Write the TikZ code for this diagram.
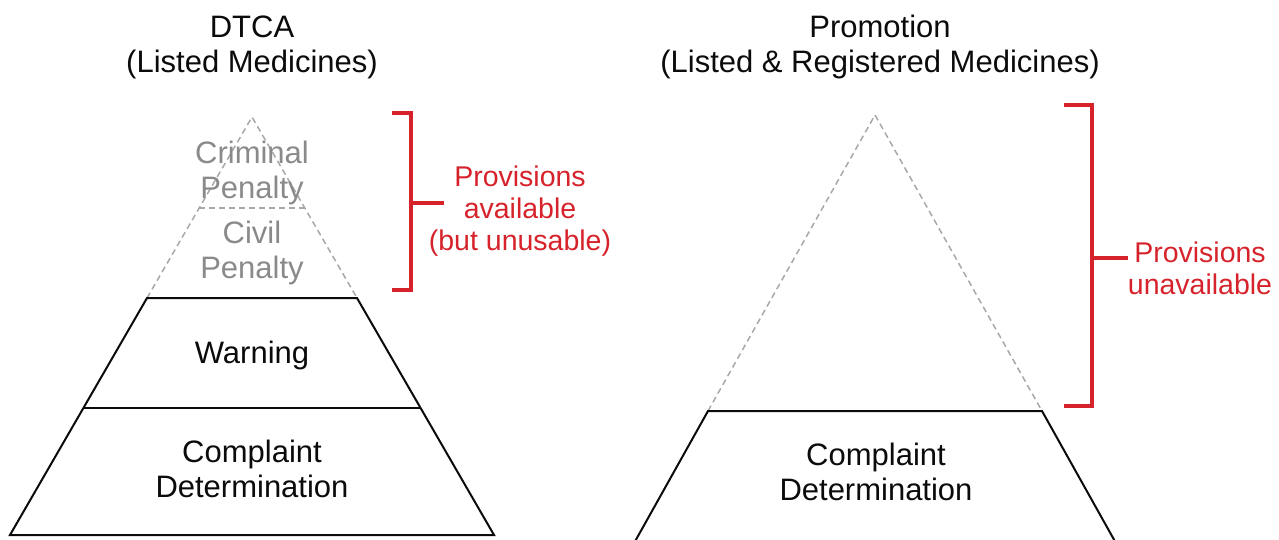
\documentclass[tikz,border=0pt]{standalone}
\usepackage{fontspec}
\setmainfont{Liberation Sans}
\usepackage{tikz}
\usetikzlibrary{positioning}
\definecolor{inkblack}{HTML}{0B0B0B}
\definecolor{provred}{HTML}{D6232B}
\definecolor{fadegray}{HTML}{8A8A8A}
\definecolor{ghostgray}{HTML}{A8A8A8}

\begin{document}
\begin{tikzpicture}[
  x=1pt, y=-1pt,
  every node/.style={font=\fontsize{31}{35}\selectfont, align=center, inner sep=0pt, text=inkblack},
  faded/.style={text=fadegray},
  note/.style={text=provred, font=\fontsize{28.5}{32}\selectfont},
  rim/.style={draw=inkblack, line width=2pt, line join=miter},
  ghost/.style={draw=ghostgray, line width=1.5pt, dash pattern=on 6pt off 4pt},
  brace/.style={draw=provred, line width=3.2pt},
]
  \useasboundingbox (0,0) rectangle (1279,540);

  % titles
  \node (lTitle) at (252,47) {DTCA\\(Listed Medicines)};
  \node (rTitle) at (880,47) {Promotion\\(Listed \& Registered Medicines)};

  % left pyramid
  \coordinate (lApex) at (252,117);
  \coordinate (lDashL) at (199,208);
  \coordinate (lDashR) at (305,208);
  \coordinate (lTopL) at (147,298);
  \coordinate (lTopR) at (357,298);
  \coordinate (lMidL) at (83,408);
  \coordinate (lMidR) at (421,408);
  \coordinate (lBotL) at (10,535);
  \coordinate (lBotR) at (494,535);

  \draw[ghost] (lTopL) -- (lApex) -- (lTopR);
  \draw[ghost] (lDashL) -- (lDashR);
  \draw[rim] (lTopL) -- (lTopR) -- (lBotR) -- (lBotL) -- cycle;
  \draw[rim] (lMidL) -- (lMidR);

  \node[faded] (crim) at (252,173) {Criminal\\Penalty};
  \node[faded] (civ) at (252,253) {Civil\\Penalty};
  \node (warn) at (252,355) {Warning};
  \node (lComp) at (252,469) {Complaint\\Determination};

  % left bracket
  \coordinate (lBrTop) at (411,113);
  \coordinate (lBrBot) at (411,290);
  \coordinate (lBrMid) at (411,203);
  \coordinate (lBrTip) at (444,203);
  \draw[brace] (392,113) -- (lBrTop) -- (lBrBot) -- (392,290);
  \draw[brace] (lBrMid) -- (lBrTip);
  \node[note] (lNote) at (520,211) {Provisions\\available\\(but unusable)};

  % right pyramid
  \coordinate (rApex) at (875,115);
  \coordinate (rTopL) at (708,411);
  \coordinate (rTopR) at (1042,411);
  \coordinate (rBotL) at (633,545);
  \coordinate (rBotR) at (1117,545);

  \draw[ghost] (rTopL) -- (rApex) -- (rTopR);
  \draw[rim] (rBotL) -- (rTopL) -- (rTopR) -- (rBotR);

  \node (rComp) at (876,472) {Complaint\\Determination};

  % right bracket
  \coordinate (rBrTop) at (1092,105);
  \coordinate (rBrBot) at (1092,406);
  \coordinate (rBrMid) at (1092,258);
  \coordinate (rBrTip) at (1128,258);
  \draw[brace] (1064,105) -- (rBrTop) -- (rBrBot) -- (1064,406);
  \draw[brace] (rBrMid) -- (rBrTip);
  \node[note] (rNote) at (1200,268) {Provisions\\unavailable};
\end{tikzpicture}
\end{document}
